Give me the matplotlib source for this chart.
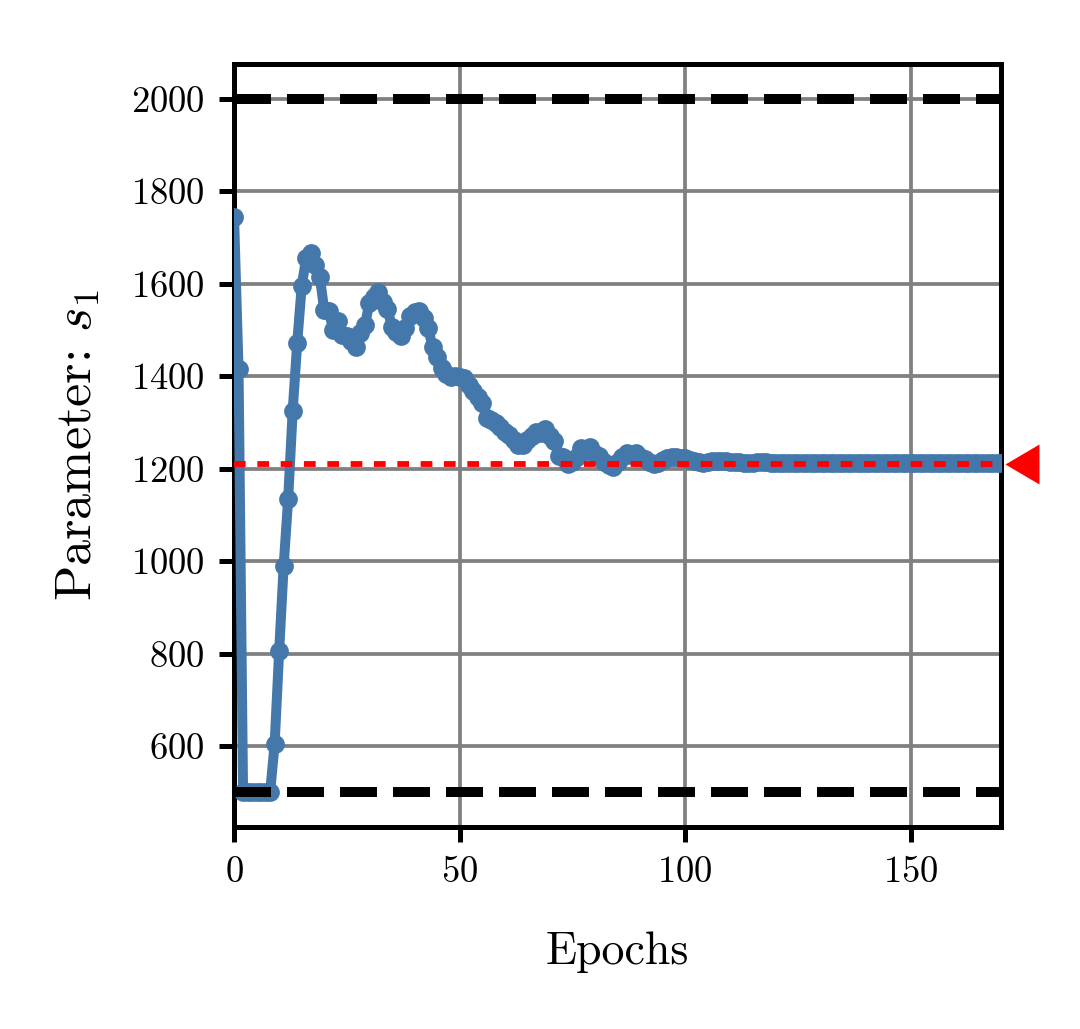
import matplotlib
matplotlib.use("Agg")
import matplotlib.pyplot as plt
import numpy as np

plt.rcParams['font.family'] = ['cmr10', 'DejaVu Serif']
plt.rcParams['mathtext.fontset'] = 'cm'
plt.rcParams['axes.formatter.use_mathtext'] = True

epochs = list(range(171))
s1_values = [
    1745, 1415, 500, 500, 500, 500, 500, 500, 500, 605,
    805, 990, 1135, 1325, 1472, 1595, 1656, 1667, 1641, 1615,
    1543, 1540, 1500, 1520, 1490, 1486, 1475, 1462, 1493, 1510,
    1558, 1572, 1583, 1561, 1545, 1507, 1495, 1486, 1504, 1530,
    1538, 1540, 1525, 1504, 1464, 1442, 1417, 1405, 1399, 1400,
    1398, 1395, 1380, 1367, 1355, 1341, 1309, 1305, 1298, 1290,
    1280, 1273, 1262, 1251, 1251, 1262, 1270, 1280, 1278, 1285,
    1270, 1260, 1228, 1225, 1210, 1215, 1225, 1244, 1238, 1246,
    1232, 1228, 1215, 1208, 1204, 1215, 1225, 1233, 1230, 1233,
    1225, 1220, 1215, 1211, 1213, 1218, 1222, 1225, 1226, 1224,
    1222, 1219, 1216, 1214, 1213, 1214, 1216, 1217, 1217, 1216,
    1215, 1214, 1214, 1213, 1213, 1213, 1214, 1214, 1214, 1213,
    1213, 1213, 1213, 1213, 1213, 1213, 1213, 1213, 1213, 1213,
    1213, 1213, 1213, 1213, 1213, 1213, 1213, 1213, 1213, 1213,
    1213, 1213, 1213, 1213, 1213, 1213, 1213, 1213, 1213, 1213,
    1213, 1213, 1213, 1213, 1213, 1213, 1213, 1213, 1213, 1213,
    1213, 1213, 1213, 1213, 1213, 1213, 1213, 1213, 1213, 1213,
    1213,
]
lower_bound = 500
upper_bound = 2000
true_value = 1210
x_ticks = [0, 50, 100, 150]
y_ticks = [600, 800, 1000, 1200, 1400, 1600, 1800, 2000]

fig = plt.figure(figsize=(3.6, 3.43), dpi=300)
ax = fig.add_axes([0.2167, 0.1963, 0.7102, 0.7415])

ax.grid(True, color='#808080', linewidth=0.9, zorder=0)
ax.set_axisbelow(True)

ax.plot(epochs, s1_values, color='#4477AA', linewidth=2.4, marker='o',
        markersize=3.5, zorder=3)
ax.axhline(upper_bound, color='black', linestyle='--', linewidth=2.4, zorder=4)
ax.axhline(lower_bound, color='black', linestyle='--', linewidth=2.4, zorder=4)
ax.axhline(true_value, color='red', linestyle=(0, (2, 2)), linewidth=1.4, zorder=5)
tri = [(-0.85, 0.0), (0.85, 1.0), (0.85, -1.0), (-0.85, 0.0)]
ax.plot([1.027], [true_value], marker=tri, color='red', markersize=9.6,
        markeredgewidth=0, transform=ax.get_yaxis_transform(), clip_on=False, zorder=6)

ax.set_xlim(0, 170)
ax.set_ylim(425, 2075)
ax.set_xticks(x_ticks)
ax.set_yticks(y_ticks)
ax.tick_params(labelsize=8.8, width=1.2, length=3.5)
for sp in ax.spines.values():
    sp.set_linewidth(1.2)

ax.set_xlabel('Epochs', fontsize=11, labelpad=10)
ax.set_ylabel(r'Parameter: $s_1$', fontsize=12.5, labelpad=7)

fig.savefig('out.png', dpi=300)
